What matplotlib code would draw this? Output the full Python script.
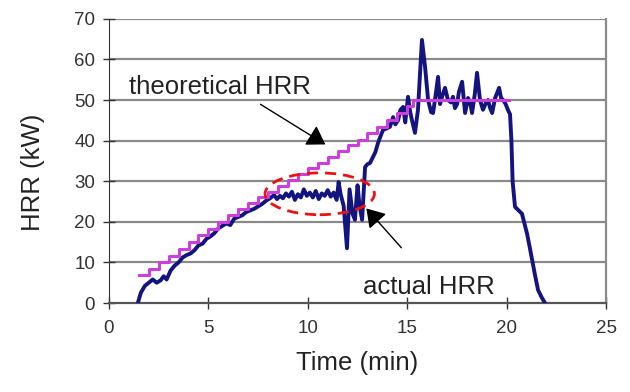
import numpy as np
import matplotlib
matplotlib.use('Agg')
from matplotlib import pyplot as plt
from matplotlib.patches import Ellipse

plt.rcParams['font.family'] = ['Liberation Sans', 'DejaVu Sans']

# theoretical HRR (staircase), time in min / HRR in kW
theo_t = [1.5, 2.0, 2.5, 3.0, 3.5, 4.0, 4.5, 5.0, 5.5, 6.0, 6.5, 7.0, 7.5, 8.0,
          8.5, 9.0, 9.5, 10.0, 10.5, 11.0, 11.5, 12.0, 12.5, 13.0, 13.5, 14.0,
          14.5, 15.0, 15.3, 20.1]
theo_v = [7.0, 8.3, 10.0, 11.6, 13.3, 15.0, 16.7, 18.3, 20.0, 21.6, 23.2, 24.6,
          26.0, 27.3, 28.8, 30.3, 31.8, 33.2, 34.6, 36.0, 37.4, 38.8, 40.2, 41.8,
          43.4, 45.2, 46.9, 48.5, 50.0, 50.0]

# measured HRR
act_t = [1.45, 1.6, 1.8, 2.0, 2.2, 2.4, 2.6, 2.75, 2.9, 3.1, 3.3, 3.5, 3.7, 3.9,
         4.1, 4.3, 4.5, 4.7, 4.9, 5.1, 5.3, 5.5, 5.7, 5.9, 6.1, 6.3, 6.5, 6.7,
         6.9, 7.1, 7.3, 7.5, 7.7, 7.9, 8.1, 8.3, 8.45, 8.6, 8.75, 8.9, 9.05, 9.2,
         9.35, 9.5, 9.65, 9.8, 9.95, 10.1, 10.25, 10.4, 10.55, 10.7, 10.85, 11.0,
         11.15, 11.3, 11.45, 11.55, 11.65, 11.8, 11.97, 12.1, 12.25, 12.37, 12.5,
         12.6, 12.73, 12.88, 13.0, 13.13, 13.28, 13.4, 13.53, 13.65, 13.78, 13.95,
         14.13, 14.29, 14.4, 14.54, 14.65, 14.79, 14.9, 15.04, 15.15, 15.24,
         15.39, 15.54, 15.74, 15.9, 16.05, 16.2, 16.3, 16.45, 16.55, 16.65,
         16.75, 16.9, 17.05, 17.2, 17.3, 17.4, 17.51, 17.6, 17.76, 17.91, 18.06,
         18.16, 18.26, 18.4, 18.51, 18.66, 18.81, 18.95, 19.06, 19.17, 19.27,
         19.42, 19.62, 19.72, 19.82, 19.95, 20.07, 20.17, 20.24, 20.3, 20.42,
         20.6, 20.77, 20.9, 21.03, 21.15, 21.28, 21.43, 21.58, 21.75, 21.93]
act_v = [0.0, 2.5, 4.2, 5.0, 5.8, 5.0, 5.6, 6.6, 5.8, 8.0, 9.2, 10.0, 11.2, 11.8,
         12.2, 13.0, 14.2, 14.6, 15.8, 16.4, 17.2, 18.4, 19.0, 19.6, 19.2, 20.8,
         21.2, 21.6, 22.4, 22.8, 23.2, 23.8, 24.4, 25.2, 25.8, 26.6, 25.6, 26.4,
         25.8, 27.0, 26.2, 27.4, 25.4, 26.8, 26.0, 28.0, 26.4, 27.2, 26.0, 27.6,
         25.6, 27.0, 26.4, 27.8, 26.2, 27.2, 25.4, 29.8, 26.8, 24.0, 13.5, 28.0,
         22.0, 20.5, 29.0, 24.0, 20.5, 33.5, 34.2, 34.5, 36.0, 37.2, 39.4, 41.0,
         42.6, 43.0, 43.4, 45.8, 44.0, 45.0, 47.5, 48.3, 44.5, 50.8, 47.0, 45.0,
         41.9, 47.6, 64.8, 58.0, 50.0, 47.0, 46.8, 52.0, 55.7, 49.0, 50.8, 53.0,
         50.0, 49.4, 50.8, 48.0, 49.0, 52.0, 54.5, 46.8, 50.5, 49.5, 46.8, 51.5,
         56.7, 50.0, 47.6, 49.2, 50.0, 48.0, 46.8, 50.5, 53.0, 50.5, 50.0, 49.0,
         47.5, 46.5, 40.0, 30.0, 23.7, 22.8, 22.0, 19.5, 17.0, 14.0, 10.6, 6.8,
         3.2, 1.5, 0.0]

x_ticks = [0, 5, 10, 15, 20, 25]
y_ticks = [0, 10, 20, 30, 40, 50, 60, 70]

fig = plt.figure(figsize=(6.3, 3.92), dpi=100)
ax = fig.add_axes([0.173, 0.227, 0.789, 0.725])

for y in y_ticks[1:]:
    ax.axhline(y, color='#8a8a8a', lw=1.6, zorder=1)

ax.plot(act_t, act_v, color='#14147e', lw=2.8, zorder=3)
ax.step(theo_t, theo_v, where='post', color='#cc3fdd', lw=2.2, zorder=4)

ax.add_patch(Ellipse((10.6, 26.9), 5.5, 10.3, fill=False, ec='#ee1111',
                     lw=2.0, ls=(0, (4, 2.5)), zorder=5))

arrow_style = '-|>,head_length=1.1,head_width=0.7'
ax.annotate('', xy=(11.0, 38.7), xytext=(7.5, 49.3),
            arrowprops=dict(arrowstyle=arrow_style, color='black', lw=1.0),
            zorder=6)
ax.text(5.6, 53.2, 'theoretical HRR', ha='center', va='center',
        fontsize=18.5, color='#222222')

ax.annotate('', xy=(12.85, 23.8), xytext=(14.8, 13.1),
            arrowprops=dict(arrowstyle=arrow_style, color='black', lw=1.0),
            zorder=6)
ax.text(16.1, 3.9, 'actual HRR', ha='center', va='center',
        fontsize=18.5, color='#222222')

ax.set_xlim(0, 25)
ax.set_ylim(0, 70)
ax.set_xticks(x_ticks)
ax.set_yticks(y_ticks)
ax.tick_params(direction='inout', length=8, width=1.0, labelsize=13.5,
               colors='#333333', pad=6)
ax.tick_params(axis='x', pad=8)

ax.spines['top'].set_visible(False)
ax.spines['right'].set_color('#8a8a8a')
ax.spines['right'].set_linewidth(1.6)
ax.spines['left'].set_color('#333333')
ax.spines['bottom'].set_color('#555555')
ax.spines['bottom'].set_linewidth(1.6)

ax.set_xlabel('Time (min)', fontsize=18.5, color='#222222', labelpad=10)
ax.set_ylabel('HRR (kW)', fontsize=18.5, color='#222222')
ax.yaxis.set_label_coords(-0.128, 0.46)

fig.savefig('out.png', dpi=100)
